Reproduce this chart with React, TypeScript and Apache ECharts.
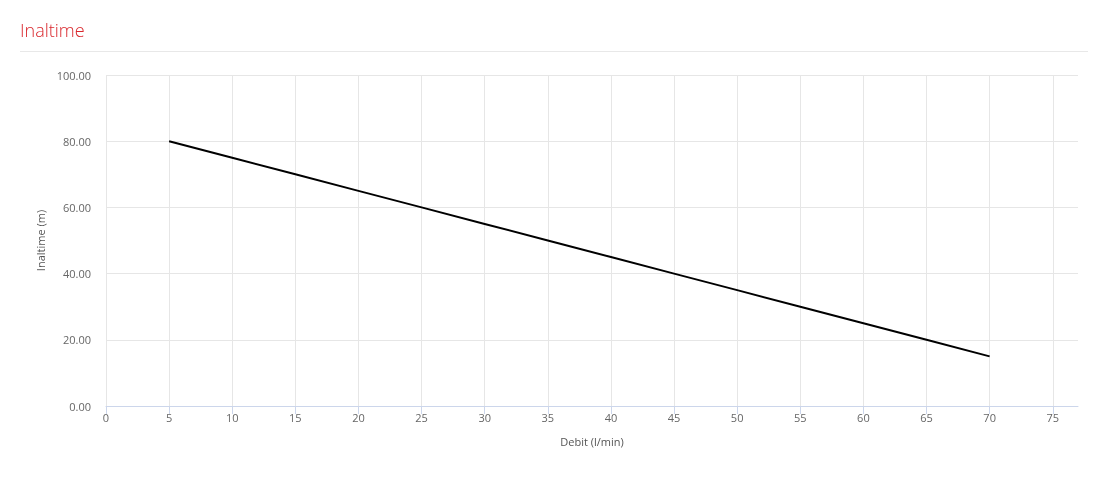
import React, { useEffect, useRef } from "react";
import * as echarts from "echarts";

const debit = [5, 10, 15, 20, 25, 30, 35, 40, 45, 50, 55, 60, 65, 70];
const inaltime = [80, 75, 70, 65, 60, 55, 50, 45, 40, 35, 30, 25, 20, 15];
const xTicks = [0, 5, 10, 15, 20, 25, 30, 35, 40, 45, 50, 55, 60, 65, 70, 75];
const titleText = "Inaltime";
const xName = "Debit (l/min)";
const yName = "Inaltime (m)";

export default function App() {
  const ref = useRef<HTMLDivElement>(null);
  useEffect(() => {
    if (!ref.current) return;
    const chart = echarts.init(ref.current, undefined, { renderer: "svg" });
    const font = "'Open Sans', sans-serif";
    chart.setOption({
      animation: false,
      textStyle: { fontFamily: font },
      title: {
        text: titleText,
        left: 15,
        top: 16,
        textStyle: { color: "#d9262c", fontSize: 18, fontWeight: 300, fontFamily: font },
      },
      graphic: [
        {
          type: "line",
          shape: { x1: 20, y1: 51.5, x2: 1088, y2: 51.5 },
          style: { stroke: "#e8e8e8", lineWidth: 1 },
        },
      ],
      grid: { left: 106, right: 30, top: 75, bottom: 79, containLabel: false },
      xAxis: {
        type: "value",
        min: 0,
        max: 77,
        name: xName,
        nameLocation: "middle",
        nameGap: 30,
        nameTextStyle: { color: "#555", fontSize: 11, fontFamily: font },
        axisLine: { show: true, lineStyle: { color: "#ccd6eb" } },
        axisTick: { show: true, lineStyle: { color: "#ccd6eb" }, length: 8, customValues: xTicks },
        axisLabel: { color: "#666", fontSize: 11, fontFamily: font, margin: 6, customValues: xTicks },
        splitLine: { show: false },
      },
      yAxis: {
        type: "value",
        min: 0,
        max: 100,
        interval: 20,
        name: yName,
        nameLocation: "middle",
        nameGap: 59,
        nameTextStyle: { color: "#555", fontSize: 11, fontFamily: font },
        axisLine: { show: false },
        axisTick: { show: false },
        axisLabel: {
          color: "#666",
          fontSize: 11,
          fontFamily: font,
          margin: 15,
          formatter: (v: number) => v.toFixed(2),
        },
        splitLine: { show: true, lineStyle: { color: "#e6e6e6" } },
      },
      series: [
        {
          type: "line",
          data: debit.map((d, i) => [d, inaltime[i]]),
          showSymbol: false,
          symbol: "none",
          lineStyle: { color: "#000", width: 2 },
          z: 3,
          markLine: {
            silent: true,
            symbol: "none",
            label: { show: false },
            lineStyle: { color: "#e6e6e6", type: "solid", width: 1 },
            data: xTicks.map((v) => ({ xAxis: v })),
            z: 1,
          },
        },
      ],
    });
    return () => chart.dispose();
  }, []);
  return <div ref={ref} style={{ position: "fixed", left: 0, top: 0, width: 1108, height: 485 }} />;
}
